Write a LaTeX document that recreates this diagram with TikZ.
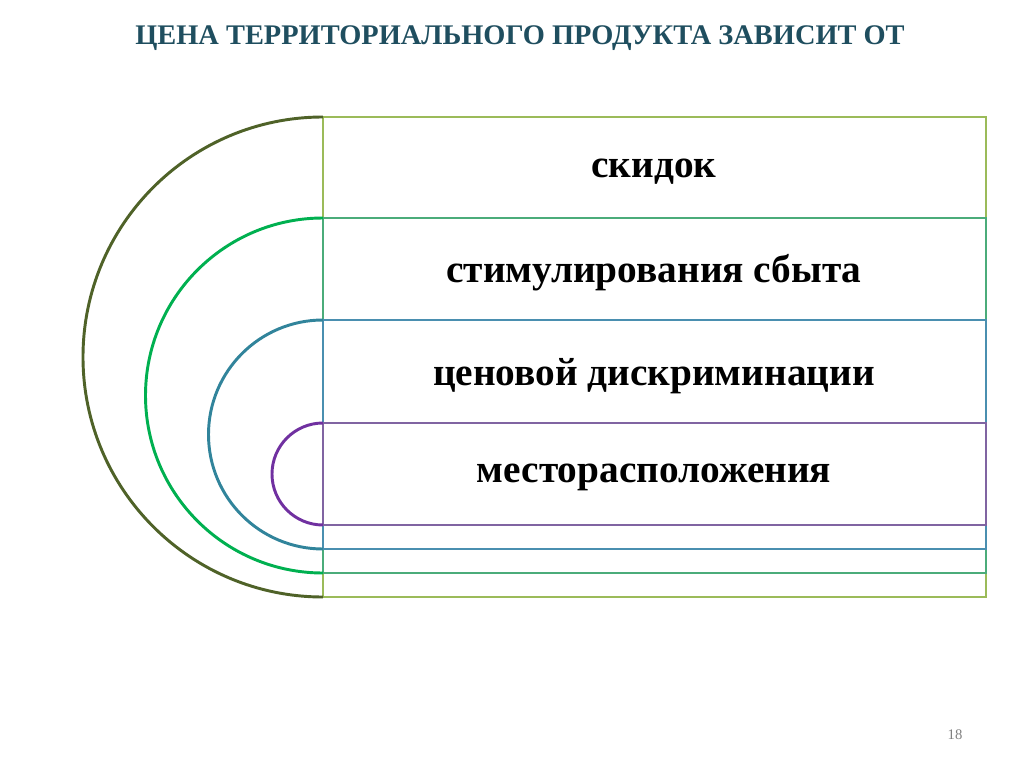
\documentclass[tikz,border=0pt]{standalone}
\usepackage{fontspec}
\setmainfont{Liberation Serif}
\begin{document}
\begin{tikzpicture}[x=0.75pt,y=-0.75pt,line width=2.2pt,
  lbl/.style={font=\bfseries\fontsize{29.5}{34}\selectfont,anchor=center}]
\useasboundingbox[fill=white] (0,0) rectangle (1024,767);
\definecolor{rA}{HTML}{9BBB59}\definecolor{aA}{HTML}{4F6228}
\definecolor{rB}{HTML}{4BAC7A}\definecolor{aB}{HTML}{00B050}
\definecolor{rC}{HTML}{4A8FB0}\definecolor{aC}{HTML}{31849B}
\definecolor{rD}{HTML}{8064A2}\definecolor{aD}{HTML}{7030A0}
\definecolor{tt}{HTML}{1F4E5F}
\node[font=\bfseries\fontsize{21.3}{25}\selectfont,text=tt] (title) at (520,38) {ЦЕНА ТЕРРИТОРИАЛЬНОГО ПРОДУКТА ЗАВИСИТ ОТ};
\draw[rA] (323,117) rectangle (986,597);
\draw[aA] (323,117) arc[start angle=-90,end angle=-270,radius=240];
\draw[rB] (323,218) rectangle (986,573);
\draw[aB] (323,218) arc[start angle=-90,end angle=-270,radius=177.5];
\draw[rC] (323,320) rectangle (986,549);
\draw[aC] (323,320) arc[start angle=-90,end angle=-270,radius=114.5];
\draw[rD] (323,423) rectangle (986,525);
\draw[aD] (323,423) arc[start angle=-90,end angle=-270,radius=51];
\node[lbl] (t1) at (654,172) {скидок};
\node[lbl] (t2) at (654,273) {стимулирования сбыта};
\node[lbl] (t3) at (654,376) {ценовой дискриминации};
\node[lbl] (t4) at (654,477) {месторасположения};
\node[font=\fontsize{11}{13}\selectfont,text=gray] (pg) at (955,735) {18};
\end{tikzpicture}
\end{document}
